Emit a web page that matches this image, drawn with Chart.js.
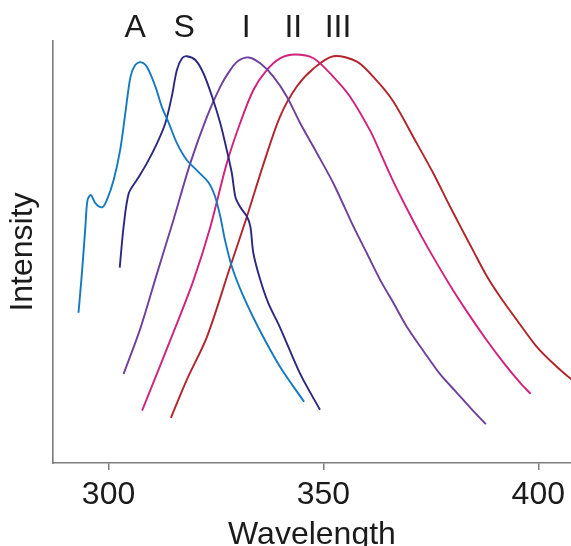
<!DOCTYPE html>
<html>
<head>
<meta charset="utf-8">
<title>Emission spectra</title>
<script src="https://cdn.jsdelivr.net/npm/chart.js@4/dist/chart.umd.min.js"></script>
<style>
  html, body { margin: 0; padding: 0; background: #fff; }
  canvas { display: block; }
</style>
</head>
<body>
<canvas id="spectra" width="571" height="546"></canvas>
<script>
// wavelength (nm) / intensity (arb. units) for each spectrum
var aWl  = [293.0, 293.8, 294.6, 295.1, 295.9, 296.9, 298.5, 299.6, 301.2, 302.7, 303.9, 305.1, 306.2, 307.4, 308.9, 310.9, 312.4, 314.0, 315.9, 318.2, 320.9, 323.3, 324.8, 326.0, 327.1, 328.7, 331.4, 334.9, 339.9, 345.5];
var aInt = [35.6, 45.0, 55.9, 62.3, 63.5, 61.6, 60.6, 62.3, 67.1, 74.2, 82.9, 91.5, 94.3, 95.0, 93.9, 89.2, 84.4, 80.6, 75.8, 71.8, 69.0, 66.4, 63.1, 58.4, 52.8, 46.5, 39.4, 32.0, 22.8, 14.5];

var sWl  = [302.6, 303.5, 304.7, 306.6, 308.9, 311.3, 313.2, 314.7, 315.9, 317.1, 318.2, 320.2, 322.1, 324.1, 326.0, 327.5, 328.7, 329.5, 330.6, 332.2, 333.0, 333.7, 335.3, 337.2, 339.9, 344.6, 349.2];
var sInt = [46.3, 56.0, 63.9, 67.1, 71.0, 75.8, 80.5, 86.8, 93.1, 95.9, 96.4, 95.5, 92.3, 86.8, 80.5, 74.2, 68.6, 63.1, 60.7, 58.4, 56.0, 49.7, 43.4, 37.8, 32.1, 21.1, 12.6];

var iWl  = [303.5, 307.4, 311.3, 315.1, 319.0, 322.9, 326.0, 328.3, 330.2, 332.6, 335.3, 338.4, 341.5, 344.6, 348.5, 352.3, 357.0, 360.1, 363.2, 366.3, 369.4, 373.3, 377.1, 381.0, 384.9, 387.8];
var iInt = [21.1, 31.9, 45.0, 57.6, 71.0, 82.1, 89.2, 93.1, 95.3, 96.1, 94.7, 91.5, 86.8, 80.5, 73.4, 66.3, 56.0, 49.7, 43.4, 37.9, 32.3, 26.5, 21.1, 16.7, 12.3, 9.2];

var iiWl  = [307.8, 315.5, 319.8, 323.7, 327.5, 330.6, 333.7, 336.8, 339.9, 343.4, 347.7, 352.3, 356.2, 360.9, 363.2, 366.3, 369.4, 372.5, 376.4, 380.2, 384.1, 388.0, 391.9, 395.7, 398.2];
var iiInt = [12.4, 32.0, 43.4, 56.0, 71.0, 80.5, 88.4, 93.1, 95.9, 96.8, 95.9, 91.5, 86.8, 78.7, 73.6, 66.6, 60.3, 54.3, 47.3, 40.9, 34.8, 29.1, 23.8, 19.1, 16.4];

var iiiWl  = [314.5, 318.2, 322.9, 328.3, 332.2, 336.1, 339.9, 343.8, 347.7, 352.3, 357.8, 362.4, 366.3, 371.7, 375.6, 378.7, 381.8, 384.9, 388.0, 391.1, 395.0, 399.6, 404.3, 407.4, 410.9];
var iiiInt = [10.7, 19.7, 29.9, 46.5, 58.4, 71.0, 82.1, 89.2, 93.5, 96.4, 95.1, 90.6, 85.6, 75.8, 68.6, 62.3, 56.2, 50.2, 44.3, 39.4, 33.9, 27.6, 22.8, 20.1, 17.5];

var peakNames  = ['A', 'S', 'I', 'II', 'III'];
var peakLabelX = [306.2, 317.6, 332.0, 343.0, 353.4];
var xTicks = [300, 350, 400];

var FONT = '"Liberation Sans", Arial, sans-serif';
var AXIS = '#7c7c7c';
var INK = '#1b1b1b';

function pts(xs, ys) {
    return xs.map(function (x, i) { return {x: x, y: ys[i]}; });
}

function series(label, xs, ys, color) {
    return {
        label: label,
        data: pts(xs, ys),
        borderColor: color,
        borderWidth: 1.9,
        pointRadius: 0,
        fill: false,
        tension: 0.3
    };
}

// names above each peak
var peakLabels = {
    id: 'peakLabels',
    afterDatasetsDraw: function (chart) {
        var ctx = chart.ctx, xs = chart.scales.x;
        ctx.save();
        ctx.font = '32px ' + FONT;
        ctx.fillStyle = INK;
        ctx.textAlign = 'center';
        ctx.textBaseline = 'alphabetic';
        peakNames.forEach(function (name, i) {
            ctx.fillText(name, xs.getPixelForValue(peakLabelX[i]), 37);
        });
        ctx.restore();
    }
};

var ctx = document.getElementById('spectra').getContext('2d');
var spectra = new Chart(ctx, {
    type: 'line',
    data: {
        datasets: [
            series('A', aWl, aInt, '#1479c1'),
            series('S', sWl, sInt, '#2b2882'),
            series('I', iWl, iInt, '#6e3f9c'),
            series('II', iiWl, iiInt, '#d2217a'),
            series('III', iiiWl, iiiInt, '#b2232a')
        ]
    },
    options: {
        responsive: false,
        animation: false,
        devicePixelRatio: 1,
        layout: { padding: { top: 41, right: 0, bottom: 0, left: 0 } },
        plugins: {
            legend: { display: false },
            tooltip: { enabled: false }
        },
        scales: {
            x: {
                type: 'linear',
                min: 287.07,
                max: 407.6,
                afterBuildTicks: function (scale) {
                    scale.ticks = xTicks.map(function (v) { return {value: v}; });
                },
                afterFit: function (scale) { scale.height = 83; },
                grid: { drawOnChartArea: false, tickLength: 7, color: AXIS, lineWidth: 1.5 },
                border: { display: true, color: AXIS, width: 1.6 },
                ticks: {
                    padding: 6,
                    maxRotation: 0,
                    color: INK,
                    font: { size: 32, family: FONT }
                },
                title: {
                    display: true,
                    text: 'Wavelength',
                    color: INK,
                    padding: 0,
                    font: { size: 32, family: FONT, lineHeight: 0.7 }
                }
            },
            y: {
                min: 0,
                max: 100,
                afterFit: function (scale) { scale.width = 53; },
                grid: { display: false },
                border: { display: true, color: AXIS, width: 1.6 },
                ticks: { display: false },
                title: {
                    display: true,
                    text: 'Intensity',
                    color: INK,
                    padding: { top: 4, bottom: 0 },
                    font: { size: 32, family: FONT }
                }
            }
        }
    },
    plugins: [peakLabels]
});
</script>
</body>
</html>
